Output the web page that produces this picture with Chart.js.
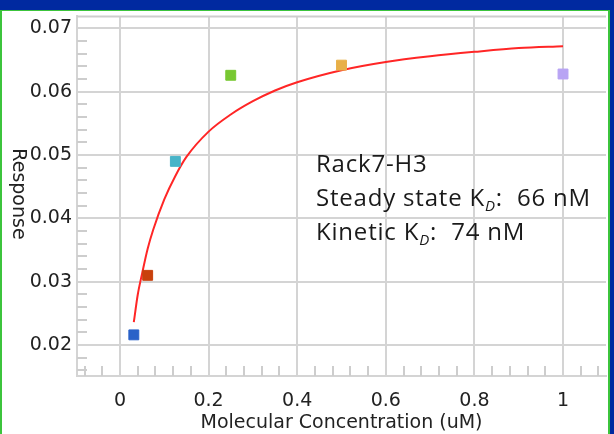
<!DOCTYPE html>
<html>
<head>
<meta charset="utf-8">
<script src="https://cdn.jsdelivr.net/npm/chart.js@4"></script>
<style>
  html, body { margin: 0; padding: 0; }
  body { width: 614px; height: 434px; background: #0029a0; position: relative; overflow: hidden; }
  .panel { position: absolute; left: 0; top: 10px; width: 606px; height: 430px; background: #fff;
           border-left: 2px solid #3cc43c; border-right: 2px solid #3cc43c; border-top: 1px solid #3cc43c; }
  #bindingChart { position: absolute; left: 0; top: 0; }
</style>
</head>
<body>
<div class="panel"></div>
<canvas id="bindingChart" width="614" height="434"></canvas>
<script>
// measured responses, one per concentration
const concentrations = [0.03125, 0.0625, 0.125, 0.25, 0.5, 1];
const responses = [0.0216, 0.0310, 0.0490, 0.0626, 0.0642, 0.0628];
const pointColors = ['#2a62c8', '#c8400c', '#48b4c8', '#78c832', '#e8b048', '#b8a4f4'];

// red fit curve
const fitX = [0.03125, 0.04, 0.05, 0.0625, 0.075, 0.1, 0.125, 0.15, 0.2, 0.25, 0.3, 0.35, 0.4, 0.5, 0.6, 0.7, 0.8, 0.9, 1];
const fitY = [0.0236, 0.0279, 0.0313, 0.0352, 0.0382, 0.0430, 0.0467, 0.0497, 0.0537, 0.0564, 0.0585, 0.0602, 0.0615, 0.0634, 0.0647, 0.0656, 0.0663, 0.0669, 0.0672];

const xTicks = [0, 0.2, 0.4, 0.6, 0.8, 1];
const xTickLabels = ['0', '0.2', '0.4', '0.6', '0.8', '1'];
const yTicks = [0.02, 0.03, 0.04, 0.05, 0.06, 0.07];
const yTickLabels = ['0.02', '0.03', '0.04', '0.05', '0.06', '0.07'];

const noteLines = [
    ['Rack7-H3'],
    ['Steady state K', 'D', ':  66 nM'],
    ['Kinetic K', 'D', ':  74 nM']
];

const gridGray = '#d4d4d4';
const textColor = '#222';

// small ticks along the left and bottom edges
const minorTicks = {
    id: 'minorTicks',
    beforeDatasetsDraw(chart) {
        const { ctx, chartArea, scales } = chart;
        ctx.save();
        ctx.strokeStyle = '#cdcdcd';
        ctx.lineWidth = 2;
        ctx.beginPath();
        for (let i = 8; i <= 35; i++) {
            const v = i * 0.002;
            if (i % 5 === 0) continue;
            const y = Math.round(scales.y.getPixelForValue(v));
            if (y < chartArea.top || y > chartArea.bottom) continue;
            ctx.moveTo(chartArea.left, y);
            ctx.lineTo(chartArea.left + 10, y);
        }
        for (let i = -2; i <= 27; i++) {
            const v = i * 0.04;
            if (i % 5 === 0) continue;
            const x = Math.round(scales.x.getPixelForValue(v));
            if (x < chartArea.left || x > chartArea.right) continue;
            ctx.moveTo(x, chartArea.bottom);
            ctx.lineTo(x, chartArea.bottom - 10);
        }
        // top edge of plot
        ctx.moveTo(chartArea.left, chartArea.top);
        ctx.lineTo(chartArea.right, chartArea.top);
        ctx.stroke();
        ctx.restore();
    },
    afterDraw(chart) {
        const { ctx } = chart;
        ctx.save();
        ctx.fillStyle = textColor;
        // y title reads top to bottom
        ctx.font = '19px "DejaVu Sans"';
        ctx.textAlign = 'center';
        ctx.textBaseline = 'middle';
        ctx.translate(18, 194);
        ctx.rotate(Math.PI / 2);
        ctx.fillText('Response', 0, 0);
        ctx.restore();

        ctx.save();
        ctx.fillStyle = '#1a1a1a';
        ctx.textBaseline = 'alphabetic';
        ctx.letterSpacing = '0.8px';
        noteLines.forEach((parts, i) => {
            let x = 316;
            const y = 172 + i * 34;
            ctx.font = '24px "Open Sans"';
            ctx.fillText(parts[0], x, y);
            if (parts.length > 1) {
                x += ctx.measureText(parts[0]).width;
                ctx.font = 'italic 15px "Open Sans"';
                ctx.fillText(parts[1], x, y + 5);
                x += ctx.measureText(parts[1]).width;
                ctx.font = '24px "Open Sans"';
                ctx.fillText(parts[2], x, y);
            }
        });
        ctx.restore();
    }
};

new Chart(document.getElementById('bindingChart'), {
    type: 'scatter',
    data: {
        datasets: [{
            data: concentrations.map((c, i) => ({ x: c, y: responses[i] })),
            backgroundColor: pointColors,
            borderColor: pointColors,
            borderWidth: 1,
            pointStyle: 'rect',
            pointRadius: 7,
            order: 1
        }, {
            type: 'line',
            data: fitX.map((c, i) => ({ x: c, y: fitY[i] })),
            borderColor: '#ff2626',
            borderWidth: 2,
            pointRadius: 0,
            fill: false,
            cubicInterpolationMode: 'monotone',
            order: 2
        }]
    },
    options: {
        responsive: false,
        animation: false,
        events: [],
        layout: { padding: { top: 15, right: 7, left: 0, bottom: 0 } },
        plugins: { legend: { display: false }, tooltip: { enabled: false } },
        scales: {
            x: {
                type: 'linear',
                min: -0.097,
                max: 1.097,
                afterBuildTicks: axis => { axis.ticks = xTicks.map(v => ({ value: v })); },
                afterFit: axis => { axis.height = 58; },
                grid: { color: gridGray, lineWidth: 2, drawTicks: false },
                border: { display: true, color: gridGray, width: 2 },
                ticks: {
                    font: { family: 'DejaVu Sans', size: 19 },
                    color: textColor,
                    padding: 14,
                    maxRotation: 0,
                    autoSkip: false,
                    callback: (v, i) => xTickLabels[i]
                },
                title: {
                    display: true,
                    text: 'Molecular Concentration (uM)',
                    font: { family: 'DejaVu Sans', size: 19 },
                    color: textColor,
                    padding: { top: 0, bottom: 0 }
                }
            },
            y: {
                min: 0.0151,
                max: 0.0719,
                afterBuildTicks: axis => { axis.ticks = yTicks.map(v => ({ value: v })); },
                afterFit: axis => { axis.width = 77; },
                grid: { color: gridGray, lineWidth: 2, drawTicks: false },
                border: { display: true, color: gridGray, width: 2 },
                ticks: {
                    font: { family: 'DejaVu Sans', size: 19 },
                    color: textColor,
                    padding: 5,
                    autoSkip: false,
                    callback: (v, i) => yTickLabels[i]
                }
            }
        }
    },
    plugins: [minorTicks]
});
</script>
</body>
</html>
